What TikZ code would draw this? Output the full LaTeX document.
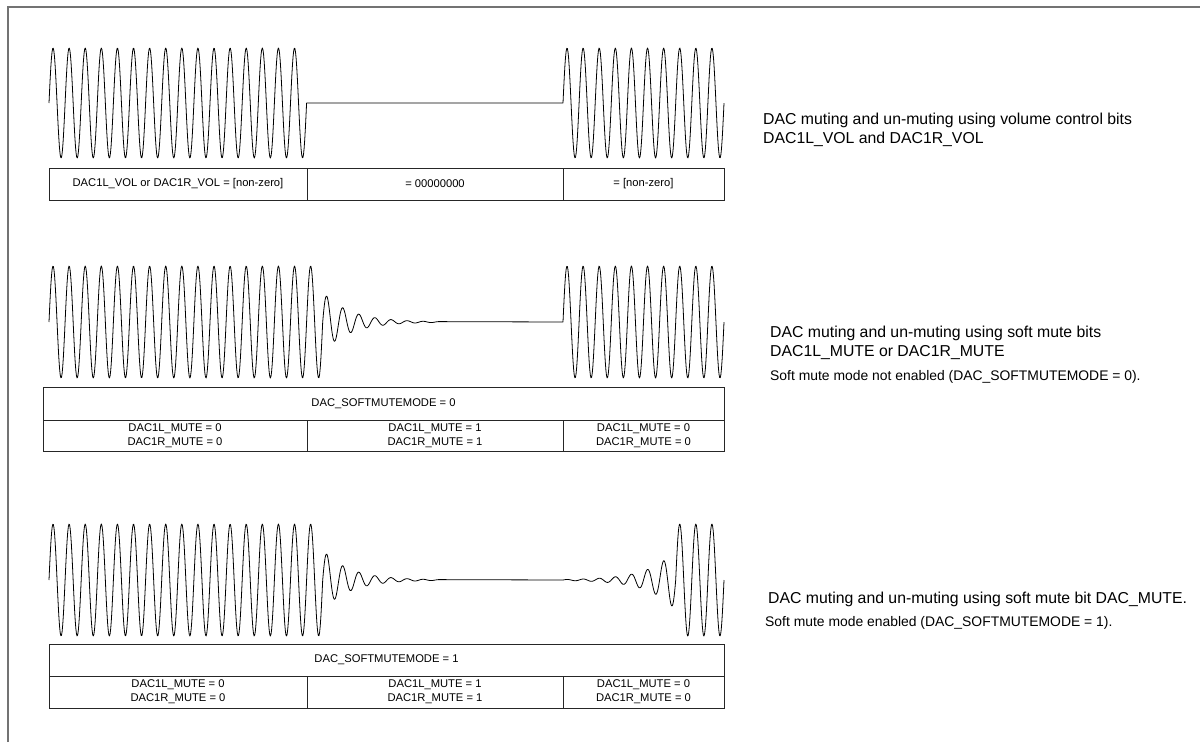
\documentclass[tikz,border=0pt]{standalone}
\usepackage{fontspec}
\setmainfont{Liberation Sans}

\begin{document}
\begin{tikzpicture}[x=1pt, y=-1pt,
    wave/.style={line width=0.8pt, line join=round},
    cellbox/.style={draw=black!85, line width=1pt, inner sep=0pt, align=center,
        font=\fontsize{11.2}{14}\selectfont},
    note/.style={anchor=base west, inner sep=0pt, font=\fontsize{15.8}{19}\selectfont},
    subnote/.style={anchor=base west, inner sep=0pt, font=\fontsize{13.9}{16}\selectfont}]
    \useasboundingbox (0,0) rectangle (1200,742);
    \draw[black!55, line width=2pt] (8,742) -- (8,7) -- (1200,7);

    % volume control
    \draw[wave] plot[domain=49:306.6, samples=420] (\x, {103-55*sin((\x-49)/16.1*360)})
        -- (563,103)
        -- plot[domain=563:724, samples=260] (\x, {103-55*sin((\x-563)/16.1*360)});
    \node[cellbox, minimum width=258, minimum height=32] (vol1) at (178,184) {DAC1L\_VOL or DAC1R\_VOL = [non-zero]};
    \node[cellbox, minimum width=256, minimum height=32] (vol2) at (435,184) {= 00000000};
    \node[cellbox, minimum width=161, minimum height=32] (vol3) at (643.5,184) {= [non-zero]};
    \node[note] (volA) at (763,124) {DAC muting and un-muting using volume control bits};
    \node[note] (volB) at (763,143) {DAC1L\_VOL and DAC1R\_VOL};

    % soft mute, mode 0
    \draw[wave] plot[domain=49:322.7, samples=440] (\x, {322-56*sin((\x-49)/16.1*360)})
        -- plot[domain=322.7:440, samples=200] (\x, {322-30*exp(-(\x-322.7)/27)*sin((\x-49)/16.1*360)})
        -- (563,322)
        -- plot[domain=563:724, samples=260] (\x, {322-56*sin((\x-563)/16.1*360)});
    \node[cellbox, minimum width=681, minimum height=33] (modeA) at (383.5,403.5) {DAC\_SOFTMUTEMODE = 0};
    \node[cellbox, minimum width=264, minimum height=31] (muteA1) at (175,435.5) {DAC1L\_MUTE = 0\\DAC1R\_MUTE = 0};
    \node[cellbox, minimum width=256, minimum height=31] (muteA2) at (435,435.5) {DAC1L\_MUTE = 1\\DAC1R\_MUTE = 1};
    \node[cellbox, minimum width=161, minimum height=31] (muteA3) at (643.5,435.5) {DAC1L\_MUTE = 0\\DAC1R\_MUTE = 0};
    \node[note] (softA) at (770,337) {DAC muting and un-muting using soft mute bits};
    \node[note] (softB) at (770,356) {DAC1L\_MUTE or DAC1R\_MUTE};
    \node[subnote] (softC) at (770,380) {Soft mute mode not enabled (DAC\_SOFTMUTEMODE = 0).};

    % soft mute, mode 1
    \draw[wave] plot[domain=49:322.7, samples=440] (\x, {580-56*sin((\x-49)/16.1*360)})
        -- plot[domain=322.7:440, samples=200] (\x, {580-30*exp(-(\x-322.7)/27)*sin((\x-49)/16.1*360)})
        -- (563,580)
        -- plot[domain=563:675.7, samples=200] (\x, {580-30*exp(-(675.7-\x)/27)*sin((\x-563)/16.1*360)})
        -- plot[domain=675.7:724, samples=90] (\x, {580-56*sin((\x-563)/16.1*360)});
    \node[cellbox, minimum width=675, minimum height=32] (modeB) at (386.5,660) {DAC\_SOFTMUTEMODE = 1};
    \node[cellbox, minimum width=258, minimum height=32] (muteB1) at (178,692) {DAC1L\_MUTE = 0\\DAC1R\_MUTE = 0};
    \node[cellbox, minimum width=256, minimum height=32] (muteB2) at (435,692) {DAC1L\_MUTE = 1\\DAC1R\_MUTE = 1};
    \node[cellbox, minimum width=161, minimum height=32] (muteB3) at (643.5,692) {DAC1L\_MUTE = 0\\DAC1R\_MUTE = 0};
    \node[note] (fadeA) at (768,603) {DAC muting and un-muting using soft mute bit DAC\_MUTE.};
    \node[subnote] (fadeB) at (765,626) {Soft mute mode enabled (DAC\_SOFTMUTEMODE = 1).};
\end{tikzpicture}
\end{document}
